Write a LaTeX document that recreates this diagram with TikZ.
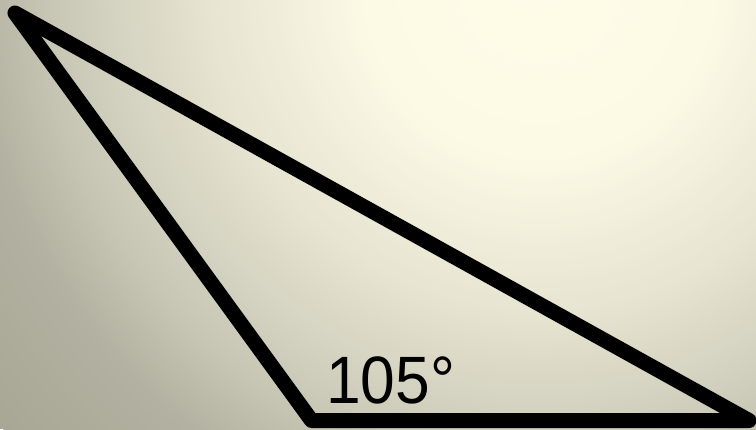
\documentclass[tikz,border=0pt]{standalone}
\usepackage{fontspec}
\setmainfont{Liberation Sans}
\newfontfamily\lblfont[FakeStretch=0.93]{Liberation Sans}
\definecolor{bgA}{HTML}{FFFCE8}
\definecolor{bgB}{HTML}{FCF9E5}
\definecolor{bgC}{HTML}{E6E4D1}
\definecolor{bgD}{HTML}{C8C6B4}
\definecolor{bgE}{HTML}{B3B1A1}
\definecolor{bgF}{HTML}{A8A694}
\tikzset{
  edge/.style={draw=black, line width=15pt, line join=round},
  anglelabel/.style={font=\lblfont\fontsize{67}{67}\selectfont, text=black, inner sep=0pt, anchor=base west}
}
\begin{document}
\begin{tikzpicture}[x=1pt,y=-1pt]
\useasboundingbox (0,0) rectangle (756,429);
\begin{scope}
  \clip (0,0) rectangle (756,429);
  \fill[bgF] (0,0) rectangle (756,429);
  \foreach \ra/\rb/\ca/\cb in {700/570/bgF/bgE, 570/490/bgE/bgD, 490/340/bgD/bgC, 340/180/bgC/bgB, 180/0/bgB/bgA}{
    \foreach \k in {0,...,29}{
      \pgfmathsetmacro\rr{\ra-(\ra-\rb)*\k/30}
      \pgfmathsetmacro\pp{100*\k/30}
      \fill[\cb!\pp!\ca] (540,-20) circle[radius=\rr];
    }
  }
  \coordinate (A) at (15,13);
  \coordinate (B) at (311.5,420.5);
  \coordinate (C) at (749,420.5);
  \draw[edge] (A) -- (B) -- (C) -- cycle;
  \node[anglelabel] (lbl) at (326,403) {105°};
\end{scope}
\end{tikzpicture}
\end{document}
